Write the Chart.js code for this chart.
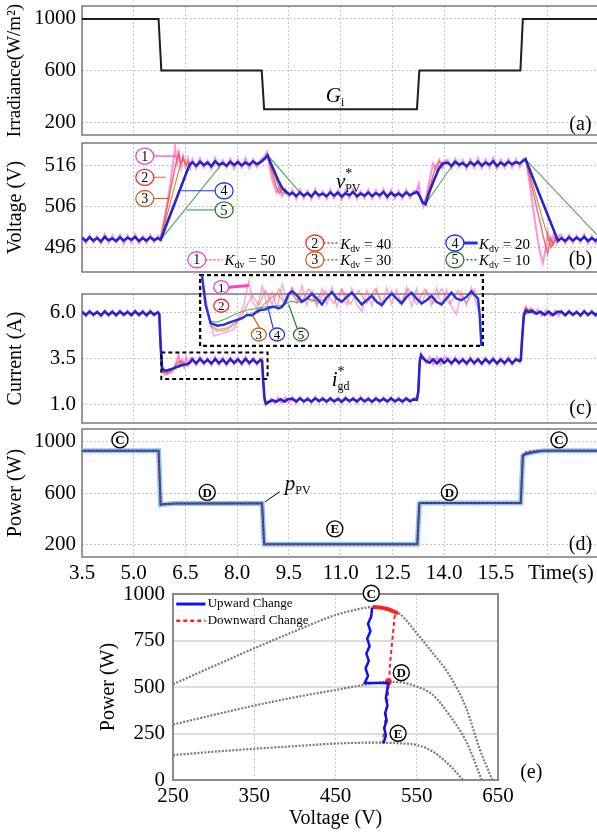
<!DOCTYPE html>
<html lang="en">
<head>
<meta charset="UTF-8">
<title>PV response for different K_dv</title>
<script src="https://cdn.jsdelivr.net/npm/chart.js"></script>
<style>
  body { margin: 0; background: #fff; }
  #fig { position: relative; width: 597px; height: 833px; overflow: hidden; }
  #fig canvas { position: absolute; left: 0; }
</style>
</head>
<body>
<div id="fig">
  <canvas id="cA" width="597" height="140" style="top:0px"></canvas>
  <canvas id="cB" width="597" height="135" style="top:140px"></canvas>
  <canvas id="cC" width="597" height="150" style="top:275px"></canvas>
  <canvas id="cD" width="597" height="165" style="top:425px"></canvas>
  <canvas id="cE" width="597" height="255" style="top:578px"></canvas>
  <canvas id="cIn" width="285" height="73" style="left:199px;top:274px"></canvas>
</div>
<script>
// ---- time axis ----
const tMin = 3.5, tMax = 18.43;
const timeTicks = [3.5, 5.0, 6.5, 8.0, 9.5, 11.0, 12.5, 14.0, 15.5, 17.0];
const timeTickText = ['3.5', '5.0', '6.5', '8.0', '9.5', '11.0', '12.5', '14.0', '15.5', '     Time(s)'];

// ---- (a) irradiance ----
const tIrr = [3.5, 5.72, 5.80, 8.71, 8.78, 13.21, 13.28, 16.21, 16.28, 18.45];
const gIrr = [1000, 1000, 600, 600, 300, 300, 600, 600, 1000, 1000];

// steady-state sample times shared by (b) and (c)
const tS1 = [3.50,3.61,3.72,3.83,3.94,4.05,4.16,4.27,4.38,4.49,4.60,4.71,4.82,4.93,5.04,5.15,5.26,5.37,5.48,5.59,5.70];
const tS2 = [6.70,6.81,6.92,7.03,7.14,7.25,7.36,7.47,7.58,7.69,7.80,7.91,8.02,8.13,8.24,8.35,8.46,8.57,8.68];
const tS3 = [9.60,9.71,9.82,9.93,10.04,10.15,10.26,10.37,10.48,10.59,10.70,10.81,10.92,11.03,11.14,11.25,11.36,11.47,11.58,11.69,11.80,11.91,12.02,12.13,12.24,12.35,12.46,12.57,12.68,12.79,12.90,13.01,13.12];
const tS4 = [14.10,14.21,14.32,14.43,14.54,14.65,14.76,14.87,14.98,15.09,15.20,15.31,15.42,15.53,15.64,15.75,15.86,15.97,16.08,16.19];
const tS5 = [17.40,17.51,17.62,17.73,17.84,17.95,18.06,18.17,18.28,18.39,18.50];

// ---- (b) voltage, Kdv = 20 (blue) ----
const vB1 = [498.4,497.6,498.5,497.7,498.3,497.5,498.6,497.8,498.2,497.6,498.5,497.7,498.4,497.9,498.6,497.6,498.3,497.7,498.5,497.8,498.3];
const vB2 = [516.9,516.0,517.0,516.2,516.8,515.9,517.1,516.3,516.7,516.0,517.0,516.2,516.9,516.1,516.8,516.3,517.1,516.4,516.9];
const vB3 = [509.4,508.6,509.5,508.7,509.3,508.5,509.6,508.8,509.2,508.6,509.5,508.7,509.4,508.5,509.3,508.8,509.6,508.6,509.2,508.7,509.5,508.6,509.3,508.8,509.6,508.5,509.4,508.7,509.2,508.6,509.5,508.8,509.3];
const vB4 = [516.8,516.0,517.0,516.3,516.7,515.9,516.9,516.2,517.0,516.1,516.8,516.3,517.1,516.0,516.8,516.2,517.0,516.4,516.9,516.6];
const vB5 = [498.3,497.6,498.5,497.7,498.4,497.8,498.6,497.6,498.3,497.7,498.4];
const tBu1 = [5.78, 6.62], vBu1 = [497.9, 516.3];
const tBd1 = [8.80,8.88,8.96,9.06,9.18,9.30,9.42,9.52], vBd1 = [517.8,518.6,516.9,515.0,512.6,510.6,509.6,509.0];
const tBu2 = [13.22,13.30,13.38,13.46,13.56,13.70,13.84,13.96], vBu2 = [509.6,508.4,507.0,506.6,509.4,512.4,515.2,516.6];
const tBd2 = [16.28,16.36,17.30], vBd2 = [517.2,517.6,497.6];
// Kdv = 50 (pink)
const vP1 = [498.9,497.0,499.0,497.2,498.8,496.9,499.3,497.1,498.9,497.3,499.1,496.8,499.0,497.2,499.2,497.0,498.8,497.1,499.1,497.3,498.8];
const vP2 = [517.6,515.4,517.8,515.6,517.3,515.2,517.9,515.5,517.4,515.6,517.7,515.3,517.5,515.6,517.8,515.4,517.6,515.7,517.5];
const vP3 = [510.1,507.9,510.2,508.0,509.9,507.8,510.3,508.1,509.8,507.9,510.2,508.0,510.1,507.8,509.9,508.1,510.3,507.9,509.8,508.0,510.2,507.9,510.0,508.1,510.3,507.8,510.1,508.0,509.9,507.9,510.2,508.1,509.9];
const vP4 = [517.5,515.4,517.7,515.6,517.4,515.2,517.6,515.5,517.8,515.4,517.5,515.6,517.9,515.3,517.5,515.5,517.7,515.6,517.6,515.8];
const vP5 = [499.0,497.0,499.1,497.1,498.9,497.2,499.2,496.9,498.9,497.1,499.0];
const tPu1 = [5.76,5.90,6.05,6.20,6.26,6.31,6.37,6.43,6.50,6.57,6.64], vPu1 = [497.8,503.5,511.0,520.6,516.6,519.0,515.6,518.4,515.8,517.9,515.5];
const tPd1 = [8.78,8.86,8.93,9.00,9.07,9.14,9.22,9.30,9.40,9.50], vPd1 = [518.2,519.4,516.2,513.0,511.2,509.4,510.9,508.6,510.3,508.4];
const tPu2 = [13.20,13.26,13.32,13.40,13.48,13.58,13.68,13.77,13.86,13.95,14.02], vPu2 = [509.8,511.6,507.9,506.1,508.6,512.8,516.6,515.0,517.4,515.5,517.2];
const tPd2 = [16.28,16.36,16.48,16.62,16.76,16.86,16.93,17.01,17.09,17.17,17.26,17.33], vPd2 = [517.5,518.0,511.5,503.0,495.5,492.2,495.2,499.6,496.4,499.1,497.0,499.0];
// Kdv = 40 (red), 30 (orange), 10 (green): transients only
const tR1 = [5.78,6.22,6.30,6.36,6.43,6.51,6.60], vR1 = [497.9,516.5,519.2,516.6,518.1,516.1,517.3];
const tR2 = [8.80,8.87,9.12,9.22,9.32,9.42], vR2 = [517.8,518.9,511.0,509.3,510.4,509.1];
const tR3 = [13.30,13.40,13.48,13.76,13.86,13.96], vR3 = [508.4,506.9,508.0,516.0,517.1,516.0];
const tR4 = [16.30,16.36,16.92,17.00,17.08,17.16,17.24], vR4 = [517.3,517.6,497.0,494.4,498.5,496.7,498.5];
const tO1 = [5.78,6.36,6.43,6.51], vO1 = [497.9,516.6,517.6,516.4];
const tO2 = [8.86,9.22,9.32], vO2 = [518.6,510.4,509.4];
const tO3 = [13.46,13.88], vO3 = [506.7,516.3];
const tO4 = [16.36,17.04,17.12,17.20], vO4 = [517.6,497.5,496.1,498.0];
const tG1 = [5.78,7.55], vG1 = [497.9,516.4];
const tG2 = [8.88,9.84], vG2 = [518.6,509.3];
const tG3 = [13.46,14.26], vG3 = [506.7,516.4];
const tG4 = [16.36,18.45], vG4 = [517.6,498.9];

// ---- (c) current ----
const iB1 = [6.03,5.86,6.04,5.88,6.02,5.85,6.05,5.87,6.03,5.86,6.04,5.88,6.02,5.86,6.05,5.87,6.03,5.85,6.04,5.88,6.00];
const iB2 = [3.45,3.24,3.48,3.26,3.43,3.23,3.47,3.25,3.44,3.22,3.46,3.27,3.45,3.24,3.48,3.26,3.44,3.25,3.42];
const iB3 = [1.31,1.17,1.33,1.18,1.30,1.16,1.34,1.19,1.31,1.17,1.32,1.18,1.30,1.16,1.33,1.19,1.31,1.17,1.34,1.18,1.30,1.16,1.32,1.19,1.31,1.17,1.33,1.18,1.30,1.17,1.32,1.19,1.28];
const iB4 = [3.44,3.25,3.46,3.27,3.43,3.24,3.47,3.26,3.44,3.23,3.45,3.27,3.46,3.24,3.43,3.26,3.47,3.25,3.44,3.36];
const iB5 = [6.03,5.86,6.04,5.88,6.02,5.85,6.05,5.87,6.03,5.86,6.03];
const iP1 = [6.10,5.80,6.12,5.82,6.08,5.78,6.13,5.81,6.10,5.79,6.12,5.82,6.09,5.80,6.14,5.81,6.10,5.78,6.12,5.82,6.06];
const iP2 = [3.55,3.15,3.60,3.18,3.52,3.14,3.58,3.17,3.55,3.13,3.57,3.19,3.54,3.15,3.60,3.17,3.53,3.16,3.50];
const iP3 = [1.40,1.09,1.42,1.10,1.38,1.08,1.43,1.11,1.40,1.09,1.41,1.10,1.39,1.08,1.42,1.11,1.40,1.09,1.43,1.10,1.39,1.08,1.41,1.11,1.40,1.09,1.42,1.10,1.39,1.09,1.41,1.11,1.36];
const iP4 = [3.54,3.16,3.57,3.18,3.53,3.15,3.58,3.17,3.54,3.14,3.56,3.18,3.57,3.15,3.53,3.17,3.58,3.16,3.54,3.30];
const iP5 = [6.10,5.80,6.12,5.82,6.08,5.78,6.13,5.81,6.10,5.79,6.08];
const tCB1 = [5.74,5.78,5.82,5.88,5.96,6.05,6.15,6.25,6.35,6.45,6.55,6.63], iCB1 = [5.90,4.20,3.00,2.86,2.84,2.90,2.96,3.04,3.11,3.16,3.19,3.28];
const tCB2 = [8.72,8.75,8.79,8.83,8.92,9.02,9.13,9.25,9.37,9.48], iCB2 = [3.38,2.40,1.35,1.05,1.14,1.24,1.15,1.29,1.16,1.30];
const tCB3 = [13.21,13.25,13.29,13.33,13.40,13.48,13.58,13.68,13.79,13.90,14.00], iCB3 = [1.26,1.70,3.30,3.66,3.50,3.36,3.27,3.45,3.24,3.46,3.26];
const tCB4 = [16.22,16.26,16.31,16.37,16.46,16.56,16.67,16.79,16.91,17.03,17.15,17.28], iCB4 = [3.40,4.60,5.85,6.10,6.02,6.08,5.93,6.04,5.87,6.04,5.86,6.03];
const tCP1 = [5.74,5.78,5.82,5.88,5.95,6.03,6.12,6.20,6.26,6.30,6.34,6.40,6.46,6.52,6.58,6.64], iCP1 = [5.98,4.10,2.85,2.64,2.62,2.70,2.78,3.10,3.45,3.70,3.22,3.42,3.05,3.55,3.15,3.52];
const tCP2 = [8.72,8.75,8.79,8.83,8.90,8.98,9.08,9.18,9.28,9.40,9.50], iCP2 = [3.50,2.30,1.20,0.98,1.16,1.32,1.07,1.38,1.09,1.40,1.10];
const tCP3 = [13.21,13.25,13.29,13.33,13.40,13.48,13.58,13.68,13.79,13.90,14.00], iCP3 = [1.38,1.80,3.40,3.80,3.56,3.24,3.58,3.18,3.56,3.16,3.55];
const tCP4 = [16.22,16.26,16.31,16.37,16.44,16.52,16.61,16.71,16.83,16.96,17.09,17.22,17.32], iCP4 = [3.45,4.65,6.00,6.30,6.08,6.22,5.95,6.15,5.82,6.12,5.80,6.10,5.82];
const tCR1 = [5.78,5.84,5.94,6.04,6.14,6.24,6.34,6.44], iCR1 = [4.10,2.78,2.70,2.78,2.95,3.20,3.36,3.30];
const tCR2 = [16.30,16.36,16.44,16.52,16.62], iCR2 = [5.60,6.25,6.10,6.18,5.98];
const tCO1 = [5.84,5.94,6.04,6.14,6.26,6.36,6.46], iCO1 = [2.82,2.76,2.86,3.00,3.08,3.22,3.30];
const tCO2 = [16.32,16.40,16.50,16.60], iCO2 = [5.90,6.20,6.05,6.12];
const tCG1 = [16.32,16.45,16.60], iCG1 = [5.85,6.00,5.95];

// zoomed inset of (c)
const insTBlue = [5.786,5.797,5.843,5.895,5.965,6.035,6.105,6.175,6.228,6.280,6.333,6.385,6.420,6.473,6.508,6.560,6.613,6.648,6.683,6.718,6.753,6.805,6.858,6.910,6.963,7.015,7.068,7.120,7.173,7.225,7.278,7.330,7.383,7.435,7.488,7.540,7.593,7.645,7.698,7.750,7.803,7.855,7.908,7.960,8.013,8.065,8.118,8.170,8.223,8.275,8.328,8.380,8.433,8.485,8.538,8.590,8.643,8.678,8.713,8.730,8.748,8.756];
const insIBlue = [4.100,3.880,3.228,2.886,2.837,2.855,2.905,2.948,2.979,3.042,3.029,3.104,3.135,3.147,3.178,3.197,3.166,3.197,3.290,3.445,3.489,3.414,3.290,3.352,3.445,3.352,3.240,3.383,3.476,3.352,3.290,3.383,3.464,3.352,3.240,3.321,3.402,3.290,3.228,3.352,3.445,3.352,3.259,3.383,3.464,3.352,3.259,3.321,3.402,3.290,3.240,3.352,3.464,3.352,3.321,3.383,3.489,3.414,3.352,3.042,2.452,2.300];
const insTPink = [5.790,5.830,5.930,6.035,6.140,6.245,6.298,6.333,6.385,6.438,6.490,6.543,6.595,6.648,6.700,6.753,6.805,6.858,6.910,6.963,7.015,7.068,7.120,7.173,7.225,7.278,7.330,7.383,7.435,7.488,7.540,7.593,7.645,7.698,7.750,7.803,7.855,7.908,7.960,8.013,8.065,8.118,8.170,8.223,8.275,8.328,8.380,8.433,8.485,8.538,8.590,8.643,8.695,8.730,8.750];
const insIPink = [4.000,3.300,2.638,2.700,2.762,3.228,3.694,3.290,3.166,3.600,3.228,3.476,3.166,3.631,3.290,3.538,3.259,3.600,3.228,3.507,3.197,3.538,3.240,3.569,3.197,3.526,3.228,3.551,3.240,3.104,3.507,3.215,3.538,3.197,3.551,3.240,3.526,3.228,3.569,3.197,3.538,3.240,3.507,3.215,3.551,3.228,3.526,3.197,3.054,3.476,3.228,3.569,3.259,3.040,2.420];
const insTRed = [5.825,5.895,5.965,6.070,6.158,6.228,6.280,6.333,6.403,6.473,6.543,6.613,6.683,6.753,6.840,6.928,7.015,7.103,7.190,7.278,7.365,7.453,7.540,7.628,7.715,7.803,7.890,7.978,8.065,8.153,8.240,8.328,8.415,8.503,8.590,8.678,8.730];
const insIRed = [3.600,2.824,2.731,2.762,2.886,3.042,3.228,3.414,3.228,3.507,3.240,3.538,3.259,3.569,3.259,3.538,3.240,3.507,3.259,3.538,3.240,3.507,3.259,3.538,3.240,3.507,3.259,3.538,3.240,3.526,3.259,3.538,3.240,3.507,3.259,3.526,3.104];
const insTOr = [5.895,5.965,6.070,6.175,6.263,6.333,6.385,6.455,6.525,6.595,6.665,6.735,6.805,6.875,6.963,7.050];
const insIOr = [2.855,2.762,2.793,2.917,3.011,3.073,3.135,3.240,3.352,3.445,3.290,3.476,3.321,3.445,3.290,3.427];
const insTGr = [5.895,5.965,6.070,6.175,6.280,6.385,6.490,6.595,6.665,6.735,6.805,6.910,7.015,7.120];
const insIGr = [2.917,2.905,2.979,3.073,3.135,3.166,3.197,3.215,3.228,3.302,3.277,3.352,3.302,3.340];

// ---- (d) power ----
const tPow = [3.50,5.72,5.78,5.86,6.20,8.70,8.72,8.78,13.22,13.28,13.32,16.22,16.28,16.36,16.50,16.70,16.90,18.45];
const pBlue = [930,930,508,512,518,520,520,200,200,518,522,522,890,905,915,925,930,930];
const pRed = [930,930,508,512,518,520,520,200,200,518,522,522,900,918,928,932,931,930];

// ---- (e) P-V curves ----
const vC = [250,300,350,400,450,480,495,510,530,550,570,590,611,627,643];
const pC = [515,612,708,800,887,920,930,925,890,789,681,565,385,172,0];
const vD = [250,300,350,400,450,490,510,530,550,570,590,611,630];
const pD = [298,350,400,445,484,515,528,525,502,457,350,206,0];
const vE = [250,300,350,400,450,500,529,550,570,590,607];
const pE = [134,152,168,182,196,201,197,188,152,81,0];
const upV = [509,512,510,513,511,514,512,515,500,486,490,487,491,488,492,489,493,490,494,495];
const upP = [197,240,280,320,360,400,440,522,522,522,560,600,640,680,720,760,800,840,880,925];
const dnV = [523,521,519,517,516,514,512,510,508];
const dnP = [887,800,710,620,528,440,350,270,197];
const arcV = [496,505,515,527], arcP = [930,928,918,895];

// ---------------------------------------------------------------
const SERIF = '"Liberation Serif", "Times New Roman", serif';
const F = (size, style) => (style ? style + ' ' : '') + size + 'px ' + SERIF;
Chart.defaults.font.family = SERIF;
Chart.defaults.color = '#000';

const PINK = '#ff3fbf', RED = '#ff2a2a', ORANGE = '#c8641e', BLUE = '#2030ff', GREEN = '#208020';

const pts = (xs, ys) => xs.map((x, i) => ({ x, y: ys[i] }));
const chain = (...parts) => parts.flat();
const pieces = (...parts) => parts.flatMap((p, i) => i ? [{ x: p[0].x, y: null }, ...p] : p);
const line = (data, color, width, extra) =>
  Object.assign({ data, borderColor: color, borderWidth: width, pointRadius: 0, fill: false, spanGaps: false, tension: 0 }, extra || {});

// keep the plot boxes exactly where they are asked to be
const fixX = h => s => { s.height = h; s.paddingLeft = 0; s.paddingRight = 0; };
const fixY = w => s => { s.width = w; s.paddingTop = 0; s.paddingBottom = 0; };

function timeAxis(h, labels) {
  return {
    type: 'linear', min: tMin, max: tMax,
    afterBuildTicks: s => { s.ticks = timeTicks.map(value => ({ value })); },
    afterFit: fixX(h),
    ticks: { display: labels, autoSkip: false, maxRotation: 0, padding: 4, font: { size: 21 },
             callback: (v, i) => timeTickText[i] },
    grid: { color: '#c6c6c6', drawTicks: false },
    border: { display: false, dash: [2, 2] }
  };
}

function valueAxis(min, max, ticks, title, fmt, titleSize) {
  return {
    type: 'linear', min, max,
    afterBuildTicks: s => { s.ticks = ticks.map(value => ({ value })); },
    afterFit: fixY(82),
    ticks: { padding: 6, font: { size: 21 }, callback: fmt || (v => String(v)) },
    grid: { color: '#c6c6c6', drawTicks: false },
    border: { display: false, dash: [2, 2] },
    title: { display: true, text: title, font: { size: titleSize || 20 }, padding: { top: 4, bottom: 0 } }
  };
}

function baseOpts(padding, scales) {
  return {
    responsive: false, animation: false, events: [],
    layout: { padding },
    plugins: { legend: { display: false }, tooltip: { enabled: false } },
    scales
  };
}

function frame(color, width, open, dash) {
  return {
    id: 'frame',
    beforeDatasetsDraw(chart) {
      const { ctx, chartArea: a } = chart;
      ctx.save();
      ctx.strokeStyle = color; ctx.lineWidth = width; ctx.setLineDash(dash || []);
      ctx.beginPath();
      if (open) {
        ctx.moveTo(a.right + 3, a.top); ctx.lineTo(a.left, a.top);
        ctx.lineTo(a.left, a.bottom); ctx.lineTo(a.right + 3, a.bottom);
      } else {
        ctx.rect(a.left, a.top, a.right - a.left, a.bottom - a.top);
      }
      ctx.stroke();
      ctx.restore();
    }
  };
}

// callouts, labels and circled markers, placed in data units
function notes(items) {
  return {
    id: 'notes',
    afterDatasetsDraw(chart) {
      const { ctx, scales: { x, y } } = chart;
      const px = v => x.getPixelForValue(v), py = v => y.getPixelForValue(v);
      ctx.save();
      items.forEach(n => {
        ctx.setLineDash(n.dash || []);
        ctx.strokeStyle = n.color || '#000';
        ctx.lineWidth = n.w || 1.2;
        if (n.k === 'seg') {
          ctx.beginPath(); ctx.moveTo(px(n.x1), py(n.y1)); ctx.lineTo(px(n.x2), py(n.y2)); ctx.stroke();
        } else if (n.k === 'box') {
          ctx.strokeRect(px(n.x1), py(n.y1), px(n.x2) - px(n.x1), py(n.y2) - py(n.y1));
        } else if (n.k === 'ring') {
          const cx = px(n.x), cy = py(n.y);
          ctx.beginPath(); ctx.ellipse(cx, cy, n.rx || 9, n.ry || 8, 0, 0, Math.PI * 2);
          ctx.fillStyle = '#fff'; ctx.fill(); ctx.stroke();
          ctx.fillStyle = '#000'; ctx.font = n.font || F(14);
          ctx.textAlign = 'center'; ctx.textBaseline = 'middle';
          ctx.fillText(n.text, cx, cy + 1);
        } else if (n.k === 'text') {
          ctx.fillStyle = '#000'; ctx.font = n.font || F(20);
          ctx.textAlign = n.align || 'center'; ctx.textBaseline = 'middle';
          ctx.fillText(n.text, px(n.x), py(n.y));
        } else if (n.k === 'rich') {
          ctx.fillStyle = '#000'; ctx.textAlign = 'left'; ctx.textBaseline = 'alphabetic';
          let pen = px(n.x);
          const base = py(n.y);
          n.parts.forEach(p => {
            ctx.font = p.f;
            ctx.fillText(p.t, pen, base + (p.dy || 0));
            if (!p.hold) pen += ctx.measureText(p.t).width;
          });
        }
      });
      ctx.restore();
    }
  };
}

const kdv = val => [{ t: 'K', f: F(15, 'italic') }, { t: 'dv', f: F(10), dy: 3 }, { t: ' = ' + val, f: F(15) }];
const ring = (x, y, text, color, extra) => Object.assign({ k: 'ring', x, y, text, color, w: 1.3 }, extra || {});
const seg = (x1, y1, x2, y2, color, w, dash) => ({ k: 'seg', x1, y1, x2, y2, color, w: w || 1.2, dash });
const letter = (x, y, text) => ({ k: 'ring', x, y, text, color: '#000', w: 1.4, rx: 8, ry: 8, font: F(13, 'bold') });

// ---- (a) ----
new Chart(document.getElementById('cA'), {
  type: 'line',
  data: { datasets: [line(pts(tIrr, gIrr), '#1e1e1e', 2)] },
  options: baseOpts({ top: 6, left: 0, right: 0, bottom: 0 }, {
    x: timeAxis(5, false),
    y: valueAxis(100, 1100, [200, 600, 1000], 'Irradiance(W/m²)', null, 19)
  }),
  plugins: [frame('#7a7a7a', 1.5, true), notes([
    { k: 'rich', x: 10.57, y: 352, parts: [{ t: 'G', f: F(21, 'italic') }, { t: 'i', f: F(12), dy: 4 }] },
    { k: 'text', x: 17.95, y: 182, text: '(a)' }
  ])]
});

// ---- (b) ----
const vBlue = chain(pts(tS1, vB1), pts(tBu1, vBu1), pts(tS2, vB2), pts(tBd1, vBd1), pts(tS3, vB3),
                    pts(tBu2, vBu2), pts(tS4, vB4), pts(tBd2, vBd2), pts(tS5, vB5));
const vPink = chain(pts(tS1, vP1), pts(tPu1, vPu1), pts(tS2, vP2), pts(tPd1, vPd1), pts(tS3, vP3),
                    pts(tPu2, vPu2), pts(tS4, vP4), pts(tPd2, vPd2), pts(tS5, vP5));
new Chart(document.getElementById('cB'), {
  type: 'line',
  data: { datasets: [
    line(vBlue, '#2424d0', 2.6),
    line(pieces(pts(tG1, vG1), pts(tG2, vG2), pts(tG3, vG3), pts(tG4, vG4)), 'rgba(70,160,70,0.85)', 1.2),
    line(pieces(pts(tO1, vO1), pts(tO2, vO2), pts(tO3, vO3), pts(tO4, vO4)), 'rgba(205,125,55,0.9)', 1.2),
    line(pieces(pts(tR1, vR1), pts(tR2, vR2), pts(tR3, vR3), pts(tR4, vR4)), 'rgba(245,70,70,0.8)', 1.4),
    line(vPink, 'rgba(255,70,200,0.6)', 2)
  ] },
  options: baseOpts({ top: 3, left: 0, right: 0, bottom: 0 }, {
    x: timeAxis(3, false),
    y: valueAxis(490, 521.6, [496, 506, 516], 'Voltage (V)')
  }),
  plugins: [frame('#7a7a7a', 1.5, true), notes([
    seg(5.59, 518.4, 6.22, 518.4, PINK), ring(5.32, 518.4, '1', PINK),
    seg(5.56, 513.2, 5.93, 513.2, 'rgba(255,90,90,0.9)'), ring(5.32, 513.2, '2', RED),
    seg(5.56, 508.0, 6.04, 508.0, ORANGE), ring(5.32, 508.0, '3', ORANGE),
    seg(6.38, 509.9, 7.35, 509.9, BLUE), ring(7.62, 509.9, '4', BLUE),
    seg(6.53, 505.2, 7.35, 505.2, 'rgba(60,150,60,0.9)'), ring(7.62, 505.2, '5', GREEN),
    { k: 'rich', x: 10.86, y: 510.6, parts: [{ t: 'v', f: F(21, 'italic') }, { t: '*', f: F(14), dy: -10, hold: true }, { t: 'PV', f: F(12), dy: 4 }] },
    seg(7.08, 493.0, 7.57, 493.0, PINK, 1.3, [2, 2]), ring(6.83, 493.0, '1', PINK),
    { k: 'rich', x: 7.63, y: 491.6, parts: kdv(50) },
    seg(10.50, 497.1, 10.94, 497.1, RED, 1.3, [2, 2]), ring(10.25, 497.1, '2', RED),
    { k: 'rich', x: 10.99, y: 495.7, parts: kdv(40) },
    seg(10.50, 493.0, 10.94, 493.0, ORANGE, 1.3, [2, 2]), ring(10.25, 493.0, '3', ORANGE),
    { k: 'rich', x: 10.99, y: 491.6, parts: kdv(30) },
    seg(14.53, 497.1, 14.97, 497.1, BLUE, 3), ring(14.31, 497.1, '4', BLUE),
    { k: 'rich', x: 15.01, y: 495.7, parts: kdv(20) },
    seg(14.53, 493.0, 14.97, 493.0, GREEN, 1.3, [2, 2]), ring(14.31, 493.0, '5', GREEN),
    { k: 'rich', x: 15.01, y: 491.6, parts: kdv(10) },
    { k: 'text', x: 17.95, y: 493.0, text: '(b)' }
  ])]
});

// ---- (c) ----
const iBlue = chain(pts(tS1, iB1), pts(tCB1, iCB1), pts(tS2, iB2), pts(tCB2, iCB2), pts(tS3, iB3),
                    pts(tCB3, iCB3), pts(tS4, iB4), pts(tCB4, iCB4), pts(tS5, iB5));
const iPink = chain(pts(tS1, iP1), pts(tCP1, iCP1), pts(tS2, iP2), pts(tCP2, iCP2), pts(tS3, iP3),
                    pts(tCP3, iCP3), pts(tS4, iP4), pts(tCP4, iCP4), pts(tS5, iP5));
new Chart(document.getElementById('cC'), {
  type: 'line',
  data: { datasets: [
    line(iBlue, '#2424d0', 2.6),
    line(pts(tCG1, iCG1), 'rgba(70,160,70,0.85)', 1.2),
    line(pieces(pts(tCO1, iCO1), pts(tCO2, iCO2)), 'rgba(205,125,55,0.9)', 1.3),
    line(pieces(pts(tCR1, iCR1), pts(tCR2, iCR2)), 'rgba(245,70,70,0.8)', 1.5),
    line(iPink, 'rgba(255,70,200,0.6)', 2)
  ] },
  options: baseOpts({ top: 19, left: 0, right: 0, bottom: 0 }, {
    x: timeAxis(2, false),
    y: valueAxis(0, 7, [1.0, 3.5, 6.0], 'Current (A)', v => v.toFixed(1))
  }),
  plugins: [frame('#7a7a7a', 1.5, true), notes([
    { k: 'box', x1: 5.80, y1: 3.82, x2: 8.88, y2: 2.39, color: '#000', w: 2, dash: [4, 3] },
    { k: 'rich', x: 10.74, y: 2.0, parts: [{ t: 'i', f: F(21, 'italic') }, { t: '*', f: F(14), dy: -10, hold: true }, { t: 'gd', f: F(12), dy: 4 }] },
    { k: 'text', x: 17.95, y: 0.76, text: '(c)' }
  ])]
});

// ---- inset (zoom of the dashed box in c) ----
new Chart(document.getElementById('cIn'), {
  type: 'line',
  data: { datasets: [
    line(pts(insTBlue, insIBlue), '#1f33e0', 2.4),
    line(pts(insTGr, insIGr), 'rgba(70,160,70,0.8)', 1.2),
    line(pts(insTOr, insIOr), 'rgba(215,130,60,0.7)', 1.2),
    line(pts(insTRed, insIRed), 'rgba(250,90,90,0.55)', 1.3),
    line(pts(insTPink, insIPink), 'rgba(255,100,210,0.6)', 1.4)
  ] },
  options: baseOpts(1, {
    x: { type: 'linear', display: false, min: 5.783, max: 8.765 },
    y: { type: 'linear', display: false, min: 2.45, max: 3.80 }
  }),
  plugins: [frame('#000', 2.5, false, [4, 3]), notes([
    seg(6.086, 3.569, 6.298, 3.600, PINK, 3), ring(6.007, 3.569, '1', PINK, { rx: 7.5, ry: 6.5, font: F(13) }),
    ring(6.007, 3.215, '2', RED, { rx: 7.5, ry: 6.5, font: F(13) }),
    seg(6.410, 2.800, 6.333, 3.042, ORANGE), ring(6.403, 2.669, '3', ORANGE, { rx: 7.5, ry: 6.5, font: F(13) }),
    seg(6.553, 2.793, 6.497, 3.197, BLUE), ring(6.595, 2.669, '4', BLUE, { rx: 7.5, ry: 6.5, font: F(13) }),
    seg(6.805, 2.793, 6.718, 3.240, GREEN), ring(6.847, 2.669, '5', GREEN, { rx: 7.5, ry: 6.5, font: F(13) })
  ])]
});

// ---- (d) ----
new Chart(document.getElementById('cD'), {
  type: 'line',
  data: { datasets: [
    line(pts(tPow, pRed), '#e8232b', 1.6, { borderDash: [2, 2] }),
    line(pts(tPow, pBlue), '#2a36c0', 2),
    line(pts(tPow, pBlue), 'rgba(95,210,235,0.9)', 5)
  ] },
  options: baseOpts({ top: 4, left: 0, right: 0, bottom: 0 }, {
    x: timeAxis(33, true),
    y: valueAxis(100, 1100, [200, 600, 1000], 'Power (W)')
  }),
  plugins: [frame('#7a7a7a', 1.5, true), notes([
    letter(4.6, 1015, 'C'), letter(17.33, 1015, 'C'),
    letter(7.13, 605, 'D'), letter(14.15, 605, 'D'),
    letter(10.83, 320, 'E'),
    seg(8.81, 532, 9.23, 610, '#000', 1),
    { k: 'rich', x: 9.38, y: 623, parts: [{ t: 'p', f: F(21, 'italic') }, { t: 'PV', f: F(12), dy: 4 }] },
    { k: 'text', x: 17.95, y: 195, text: '(d)' }
  ])]
});

// ---- (e) ----
const curve = (v, p) => ({ data: pts(v, p), showLine: true, borderColor: '#7b7b70', borderWidth: 2.2,
  borderDash: [2, 1.5], pointRadius: 0, cubicInterpolationMode: 'monotone' });
new Chart(document.getElementById('cE'), {
  type: 'scatter',
  data: { datasets: [
    { data: pts(upV, upP), showLine: true, borderColor: '#1010f0', borderWidth: 2.5, pointRadius: 0 },
    { data: pts(dnV, dnP), showLine: true, borderColor: '#ff2020', borderWidth: 2, borderDash: [4, 3], pointRadius: 0 },
    { data: pts(arcV, arcP), showLine: true, borderColor: '#ff2020', borderWidth: 4, pointRadius: 0 },
    { data: pts([515], [528]), showLine: false, pointRadius: 3.5, backgroundColor: '#ff2020', borderWidth: 0 },
    curve(vC, pC), curve(vD, pD), curve(vE, pE)
  ] },
  options: baseOpts({ top: 16, left: 93, right: 99, bottom: 0 }, {
    x: {
      type: 'linear', min: 250, max: 650,
      afterFit: fixX(53),
      ticks: { stepSize: 100, padding: 4, font: { size: 21 }, maxRotation: 0, callback: v => String(v) },
      grid: { color: '#c6c6c6', drawTicks: false },
      border: { display: false, dash: [2, 2] },
      title: { display: true, text: 'Voltage (V)', font: { size: 20 }, padding: { top: 0, bottom: 2 } }
    },
    y: {
      type: 'linear', min: 0, max: 1000,
      afterFit: fixY(80),
      ticks: { stepSize: 250, padding: 8, font: { size: 21 }, callback: v => String(v) },
      grid: { color: '#dcdcdc', lineWidth: 2, drawTicks: false },
      border: { display: false },
      title: { display: true, text: 'Power (W)', font: { size: 20 }, padding: { top: 4, bottom: 0 } }
    }
  }),
  plugins: [frame('#8a8a8a', 2, false), notes([
    seg(254, 946, 290, 946, '#1010f0', 3),
    { k: 'text', x: 292.7, y: 946, text: 'Upward Change', font: F(13), align: 'left' },
    seg(254, 856, 290, 856, '#ff2020', 2.5, [4, 3]),
    { k: 'text', x: 292.7, y: 856, text: 'Downward Change', font: F(13), align: 'left' },
    letter(494, 1004, 'C'), letter(531, 577, 'D'), letter(527, 251, 'E'),
    { k: 'text', x: 691, y: 38, text: '(e)' }
  ])]
});
</script>
</body>
</html>
